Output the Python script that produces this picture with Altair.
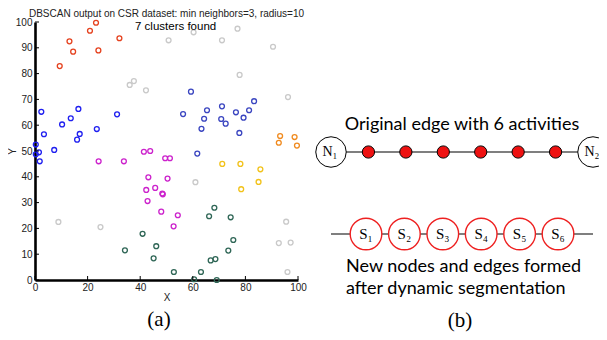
import altair as alt
import pandas as pd

# ---------------- data: DBSCAN scatter ----------------
cluster_names = ["noise", "c1", "c2", "c3", "c4", "c5", "c6", "c7"]
cluster_colors = ["#c9c9c9", "#e5421f", "#1f1ff0", "#3a45c0", "#cc22cc", "#2f6656", "#f2c21a", "#f08a1e"]

noise_x = [36.0, 37.6, 42.2, 50.8, 60.3, 71.1, 77.0, 90.5, 77.8, 96.2, 61.0, 95.5, 92.7, 97.2, 96.0, 8.9, 24.9]
noise_y = [75.6, 77.1, 73.5, 92.9, 96.0, 92.9, 97.4, 90.4, 79.5, 70.9, 37.9, 22.6, 14.3, 14.5, 3.1, 22.5, 20.5]

c1_x = [9.4, 13.1, 14.5, 20.9, 23.2, 24.1, 32.1]
c1_y = [82.9, 92.5, 88.5, 96.6, 99.7, 89.0, 93.7]

c2_x = [2.4, 3.4, 10.3, 13.6, 16.5, 17.0, 16.0, 23.5, 31.2, 0.3, 7.3, 0.3, 1.5, 1.8]
c2_y = [65.2, 56.5, 60.3, 62.7, 66.3, 56.6, 54.4, 58.5, 64.2, 52.5, 50.4, 48.7, 49.5, 46.0]

c3_x = [59.3, 56.3, 65.4, 64.3, 63.3, 71.1, 70.8, 72.5, 76.4, 79.3, 81.4, 83.3, 77.7, 61.7]
c3_y = [73.0, 64.3, 65.8, 62.5, 58.6, 67.3, 62.4, 60.6, 65.0, 62.9, 65.8, 69.3, 57.0, 49.0]

c4_x = [24.2, 33.8, 41.4, 43.8, 49.5, 51.3, 43.1, 50.4, 42.3, 45.7, 48.4, 48.6, 42.8, 48.0, 54.3, 52.7]
c4_y = [46.0, 46.0, 49.7, 50.0, 47.2, 47.2, 39.8, 39.3, 34.9, 35.7, 33.5, 33.2, 30.6, 26.5, 25.1, 20.8]

c5_x = [34.2, 40.9, 46.1, 45.1, 68.2, 66.2, 74.4, 75.4, 73.5, 66.8, 68.6, 52.8, 63.1, 60.5, 69.1]
c5_y = [11.5, 17.9, 13.1, 8.4, 28.0, 24.7, 24.3, 15.5, 11.4, 7.6, 8.1, 3.1, 3.1, 0.3, 0.0]

c6_x = [71.2, 78.1, 85.7, 85.0, 78.4]
c6_y = [45.0, 45.0, 42.9, 38.0, 35.2]

c7_x = [93.2, 98.7, 92.7, 99.6]
c7_y = [55.8, 55.4, 53.2, 52.1]

x_ticks = [0, 20, 40, 60, 80, 100]
y_ticks = [0, 10, 20, 30, 40, 50, 60, 70, 80, 90, 100]

title_text = ["DBSCAN output on CSR dataset: min neighbors=3, radius=10"]
subtitle_text = ["7 clusters found"]
panel_captions = ["(a)", "(b)"]

# ---------------- data: edge diagram ----------------
end_nodes = ["N\u2081", "N\u2082"]
activity_count = 6
segment_labels = ["S\u2081", "S\u2082", "S\u2083", "S\u2084", "S\u2085", "S\u2086"]
row_names = ["original", "segmented"]
top_caption = ["Original edge with 6 activities"]
bottom_caption = ["New nodes and edges formed\nafter dynamic segmentation"]

# ---------------- tables ----------------
groups = [
    ("noise", noise_x, noise_y), ("c1", c1_x, c1_y), ("c2", c2_x, c2_y), ("c3", c3_x, c3_y),
    ("c4", c4_x, c4_y), ("c5", c5_x, c5_y), ("c6", c6_x, c6_y), ("c7", c7_x, c7_y),
]
rows = []
for name, xs_, ys_ in groups:
    for a, b in zip(xs_, ys_):
        rows.append({"X": a, "Y": b, "cluster": name})
df = pd.DataFrame(rows)

last_slot = activity_count + 1
df_ends = pd.DataFrame({"slot": [0, last_slot], "label": end_nodes, "row": row_names[0]})
df_acts = pd.DataFrame({"slot": list(range(1, activity_count + 1)), "row": row_names[0]})
df_segs = pd.DataFrame({"slot": list(range(1, len(segment_labels) + 1)), "label": segment_labels, "row": row_names[1]})
df_edges = pd.DataFrame({"start": [0, 0], "end": [last_slot, last_slot], "row": row_names})
df_cap1 = pd.DataFrame({"slot": [last_slot / 2], "text": top_caption, "row": row_names[0]})
df_cap2 = pd.DataFrame({"slot": [0], "text": bottom_caption, "row": row_names[1]})

W, H = 263, 258
FONT = "Liberation Sans"

xs = alt.Scale(domain=[0, 100], nice=False, zero=False)
ys = alt.Scale(domain=[0, 100], nice=False, zero=False)

scatter = alt.Chart(df).mark_point(shape="circle", filled=False, size=24, strokeWidth=1.3, opacity=1).encode(
    x=alt.X("X:Q", scale=xs, axis=alt.Axis(
        values=x_ticks, title="X", grid=False, ticks=False, domainColor="black", domainWidth=2.6,
        labelFont=FONT, labelFontSize=10, labelColor="#222", labelPadding=2, labelFlush=False,
        labelOverlap=False, titleFont=FONT, titleFontSize=10, titleFontWeight="normal",
        titleColor="#222", titlePadding=0)),
    y=alt.Y("Y:Q", scale=ys, axis=alt.Axis(
        values=y_ticks, title="Y", grid=False, ticks=False, domainColor="black", domainWidth=2.6,
        labelFont=FONT, labelFontSize=10, labelColor="#222", labelPadding=3, labelFlush=False,
        labelOverlap=False, titleFont=FONT, titleFontSize=10, titleFontWeight="normal",
        titleColor="#222", titleX=-18, titleY=H / 2)),
    color=alt.Color("cluster:N", scale=alt.Scale(domain=cluster_names, range=cluster_colors), legend=None),
)

yticks = alt.Chart(pd.DataFrame({"v": y_ticks})).mark_rule(color="black", strokeWidth=1).encode(
    y=alt.Y("v:Q", scale=ys, axis=None), x=alt.value(0), x2=alt.value(4))
xticks = alt.Chart(pd.DataFrame({"v": x_ticks})).mark_rule(color="black", strokeWidth=1).encode(
    x=alt.X("v:Q", scale=xs, axis=None), y=alt.value(H), y2=alt.value(H - 4))

title = alt.Chart(pd.DataFrame({"t": title_text})).mark_text(
    font=FONT, fontSize=10, color="#222", align="center", baseline="alphabetic").encode(
    text="t:N", x=alt.value(W / 2), y=alt.value(-5))
subtitle = alt.Chart(pd.DataFrame({"t": subtitle_text})).mark_text(
    font=FONT, fontSize=11.5, color="black", align="left", baseline="alphabetic").encode(
    text="t:N", x=alt.value(100), y=alt.value(8))

cap_a = alt.Chart(pd.DataFrame({"t": panel_captions[:1]})).mark_text(
    font="Liberation Serif", fontSize=21, color="black", align="center", baseline="alphabetic").encode(
    text="t:N", x=alt.value(124), y=alt.value(304))
cap_b = alt.Chart(pd.DataFrame({"t": panel_captions[1:]})).mark_text(
    font="Liberation Serif", fontSize=21, color="black", align="center", baseline="alphabetic").encode(
    text="t:N", x=alt.value(425), y=alt.value(305))

# diagram scales (view coordinates)
top_x = alt.Scale(domain=[0, last_slot], range=[296, 558], nice=False, zero=False)
seg_x = alt.Scale(domain=[1, len(segment_labels)], range=[331, 523], nice=False, zero=False)
row_y = alt.Scale(type="point", domain=row_names, range=[130, 212], padding=0)

edges = alt.Chart(df_edges).mark_rule(color="black", strokeWidth=1.1).encode(
    x=alt.X("start:Q", scale=top_x, axis=None), x2="end:Q",
    y=alt.Y("row:N", scale=row_y, axis=None))
end_circles = alt.Chart(df_ends).mark_point(shape="circle", filled=True, fill="white", stroke="black",
                                            strokeWidth=1, size=930, opacity=1).encode(
    x=alt.X("slot:Q", scale=top_x, axis=None), y=alt.Y("row:N", scale=row_y, axis=None))
end_text = alt.Chart(df_ends).mark_text(font="Liberation Serif", fontSize=14, color="black",
                                        align="center", baseline="middle", dx=-1).encode(
    x=alt.X("slot:Q", scale=top_x, axis=None), y=alt.Y("row:N", scale=row_y, axis=None), text="label:N")
act_dots = alt.Chart(df_acts).mark_point(shape="circle", filled=True, fill="#ee1111", stroke="black",
                                         strokeWidth=1, size=150, opacity=1).encode(
    x=alt.X("slot:Q", scale=top_x, axis=None), y=alt.Y("row:N", scale=row_y, axis=None))
seg_circles = alt.Chart(df_segs).mark_point(shape="circle", filled=True, fill="white", stroke="#ee2020",
                                            strokeWidth=1.4, size=1000, opacity=1).encode(
    x=alt.X("slot:Q", scale=seg_x, axis=None), y=alt.Y("row:N", scale=row_y, axis=None))
seg_text = alt.Chart(df_segs).mark_text(font="Liberation Serif", fontSize=15, color="black",
                                        align="center", baseline="middle").encode(
    x=alt.X("slot:Q", scale=seg_x, axis=None), y=alt.Y("row:N", scale=row_y, axis=None), text="label:N")
cap1 = alt.Chart(df_cap1).mark_text(font="Lato", fontSize=18, color="black", align="center",
                                    baseline="alphabetic", dy=-22).encode(
    x=alt.X("slot:Q", scale=top_x, axis=None), y=alt.Y("row:N", scale=row_y, axis=None), text="text:N")
cap2 = alt.Chart(df_cap2).mark_text(font="Lato", fontSize=18, color="black", align="left",
                                    baseline="alphabetic", dx=15, dy=38, lineBreak="\n", lineHeight=22).encode(
    x=alt.X("slot:Q", scale=top_x, axis=None), y=alt.Y("row:N", scale=row_y, axis=None), text="text:N")

chart = alt.layer(
    scatter, yticks, xticks, title, subtitle, cap_a, cap_b,
    edges, end_circles, end_text, act_dots, seg_circles, seg_text, cap1, cap2,
).resolve_scale(x="independent", y="independent").properties(
    width=W, height=H,
    padding={"left": 27, "top": 14, "right": 301, "bottom": 52},
    autosize=alt.AutoSizeParams(type="none"),
    background="white",
).configure_view(strokeWidth=0)

chart.save("out.html", embed_options={"renderer": "svg", "actions": False})
